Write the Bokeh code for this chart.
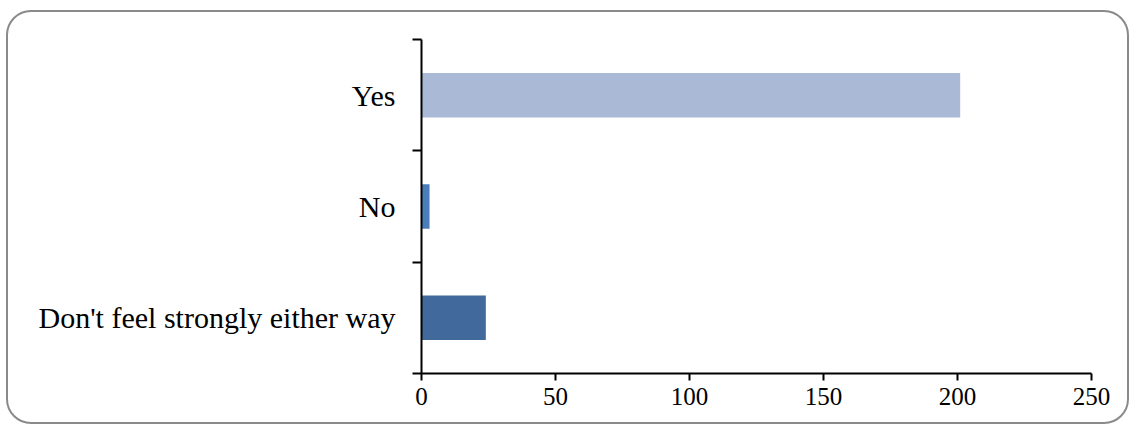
from bokeh.plotting import figure
from bokeh.models import ColumnDataSource, FixedTicker, Range1d
from bokeh.layouts import column
from bokeh.embed import file_html
from bokeh.resources import INLINE

# ---- data ----
categories = ["Don't feel strongly either way", "No", "Yes"]
values = [24, 3, 201]
colors = ["#42699b", "#4a7ebb", "#aab9d6"]
x_ticks = [0, 50, 100, 150, 200, 250]

positions = [i + 0.5 for i in range(len(categories))]
boundaries = list(range(len(categories) + 1))

src = ColumnDataSource(dict(y=positions, v=values, c=colors, cat=categories))

W, H = 1119, 410
p = figure(width=W, height=H, output_backend="svg", toolbar_location=None,
           x_range=Range1d(0, 250), y_range=Range1d(0, len(categories)),
           min_border_left=413, min_border_right=36, min_border_top=27, min_border_bottom=49)

p.hbar(y="y", right="v", left=0, height=0.4, color="c", source=src, line_color=None)

p.grid.visible = False
p.outline_line_color = None
p.background_fill_color = "white"
p.border_fill_color = None

font = "Liberation Serif"

# y axis: labels at centers, ticks at category boundaries
ya = p.yaxis[0]
ya.ticker = FixedTicker(ticks=positions, minor_ticks=boundaries)
ya.major_label_overrides = {pos: cat for pos, cat in zip(positions, categories)}
ya.major_tick_out = 0
ya.major_tick_in = 0
ya.minor_tick_out = 9
ya.minor_tick_in = 0
ya.minor_tick_line_color = "black"
ya.minor_tick_line_width = 2
ya.axis_line_color = "black"
ya.axis_line_width = 2
ya.major_label_standoff = 17
ya.major_label_text_font = font
ya.major_label_text_font_size = "30px"
ya.major_label_text_color = "black"

xa = p.xaxis[0]
xa.ticker = FixedTicker(ticks=x_ticks, minor_ticks=[])
xa.major_tick_out = 7
xa.major_tick_in = 0
xa.major_tick_line_color = "black"
xa.major_tick_line_width = 2
xa.axis_line_color = "black"
xa.axis_line_width = 2
xa.major_label_standoff = 7
xa.major_label_text_font = font
xa.major_label_text_font_size = "25px"
xa.major_label_text_color = "black"

# rounded border around the whole chart
layout = column(p, styles={"border": "2px solid #8a8a8a", "border-radius": "25px",
                           "margin-left": "6px", "margin-top": "10px",
                           "background-color": "white"})

open("out.html", "w").write(file_html(layout, INLINE))
